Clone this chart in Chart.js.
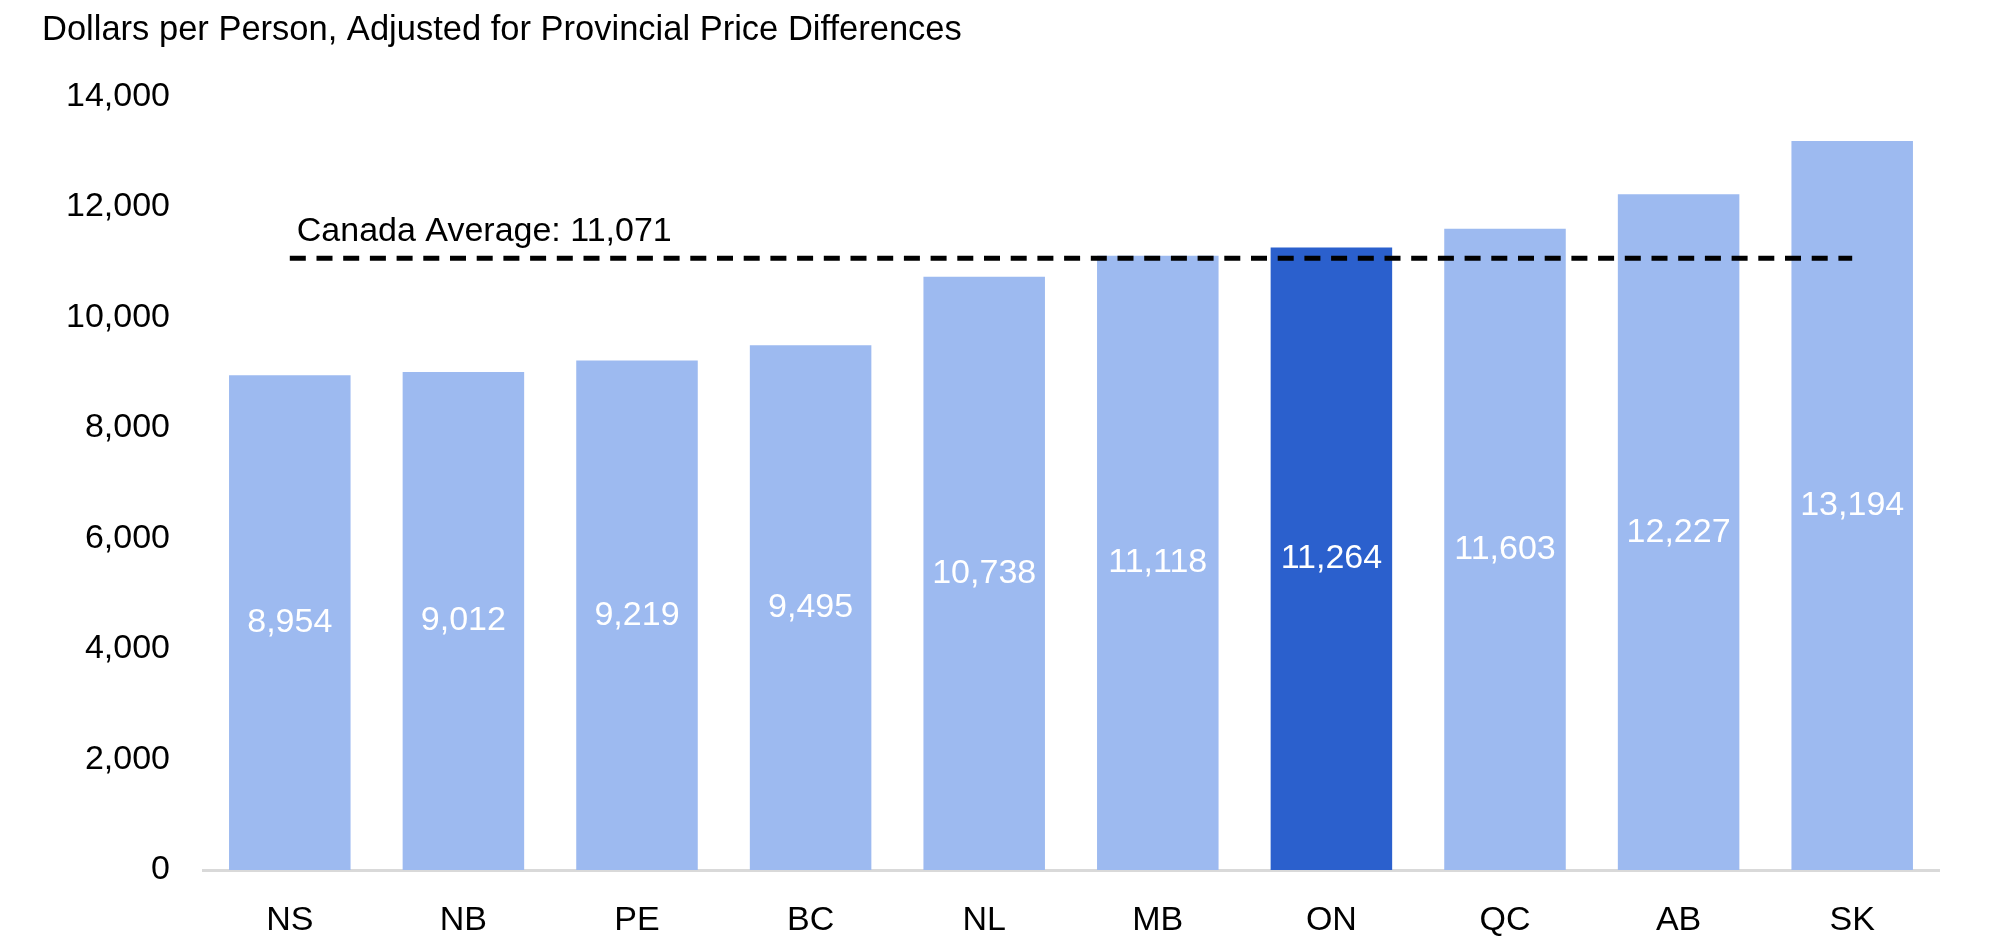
<!DOCTYPE html>
<html>
<head>
<meta charset="utf-8">
<title>Dollars per Person</title>
<script src="https://cdn.jsdelivr.net/npm/chart.js@4.4.1/dist/chart.umd.min.js"></script>
<style>
    html, body { margin: 0; padding: 0; background: #fff; }
    #wrap { width: 2012px; height: 952px; position: relative; }
</style>
</head>
<body>
<div id="wrap"><canvas id="chart"></canvas></div>
<script>
// Chart data
const provinces = ['NS', 'NB', 'PE', 'BC', 'NL', 'MB', 'ON', 'QC', 'AB', 'SK'];
const dollarsPerPerson = [8954, 9012, 9219, 9495, 10738, 11118, 11264, 11603, 12227, 13194];
const highlighted = ['ON'];
const canadaAverage = 11071;
const yTicks = [0, 2000, 4000, 6000, 8000, 10000, 12000, 14000];

const FONT = '"Liberation Sans", Arial, sans-serif';
const LIGHT = '#9dbaf0';
const DARK = '#2b60cd';

const barColors = provinces.map(p => highlighted.includes(p) ? DARK : LIGHT);

// White value labels centred inside each bar
const barLabels = {
    id: 'barLabels',
    afterDatasetsDraw(chart) {
        const ctx = chart.ctx;
        const meta = chart.getDatasetMeta(0);
        ctx.save();
        ctx.fillStyle = '#ffffff';
        ctx.font = '34px ' + FONT;
        ctx.textAlign = 'center';
        ctx.textBaseline = 'middle';
        meta.data.forEach((bar, i) => {
            const y = (bar.y + bar.base) / 2;
            ctx.fillText(dollarsPerPerson[i].toLocaleString('en-US'), bar.x, y);
        });
        ctx.restore();
    }
};

// Dashed national average line with its label
const averageLine = {
    id: 'averageLine',
    afterDatasetsDraw(chart) {
        const ctx = chart.ctx;
        const x = chart.scales.x;
        const y = chart.scales.y;
        const yPos = y.getPixelForValue(canadaAverage);
        const x0 = x.getPixelForValue(0);
        const x1 = x.getPixelForValue(provinces.length - 1);
        ctx.save();
        ctx.strokeStyle = '#000000';
        ctx.lineWidth = 5;
        ctx.setLineDash([16, 10.7]);
        ctx.beginPath();
        ctx.moveTo(x0, yPos);
        ctx.lineTo(x1, yPos);
        ctx.stroke();
        ctx.setLineDash([]);
        ctx.fillStyle = '#000000';
        ctx.font = '34px ' + FONT;
        ctx.textAlign = 'left';
        ctx.textBaseline = 'alphabetic';
        ctx.fillText('Canada Average: ' + canadaAverage.toLocaleString('en-US'), x0 + 7, yPos - 17);
        ctx.restore();
    }
};

Chart.defaults.font.family = FONT;
Chart.defaults.font.size = 34;
Chart.defaults.color = '#000000';

new Chart(document.getElementById('chart'), {
    type: 'bar',
    data: {
        labels: provinces,
        datasets: [{
            data: dollarsPerPerson,
            backgroundColor: barColors,
            borderWidth: 0,
            categoryPercentage: 1,
            barPercentage: 0.7
        }]
    },
    options: {
        responsive: true,
        maintainAspectRatio: false,
        animation: false,
        layout: { padding: { left: 42, right: 73, top: 0, bottom: 0 } },
        plugins: {
            legend: { display: false },
            tooltip: { enabled: false },
            title: {
                display: true,
                text: 'Dollars per Person, Adjusted for Provincial Price Differences',
                align: 'start',
                color: '#000000',
                font: { size: 34.5, weight: 'normal', lineHeight: 1.2 },
                padding: { top: 10, bottom: 45 }
            }
        },
        scales: {
            x: {
                grid: { display: false, drawTicks: false },
                border: { display: true, color: '#d9d9d9', width: 3 },
                afterFit(scale) {
                    scale.height = 82;
                },
                ticks: { padding: 30, font: { size: 34 }, color: '#000000' }
            },
            y: {
                min: 0,
                max: 14000,
                grid: { display: false, drawTicks: false },
                border: { display: false },
                afterBuildTicks(scale) {
                    scale.ticks = yTicks.map(v => ({ value: v }));
                },
                afterFit(scale) {
                    scale.width = 161;
                },
                ticks: {
                    padding: 33,
                    font: { size: 34 },
                    color: '#000000',
                    callback: v => Number(v).toLocaleString('en-US')
                }
            }
        }
    },
    plugins: [barLabels, averageLine]
});
</script>
</body>
</html>
